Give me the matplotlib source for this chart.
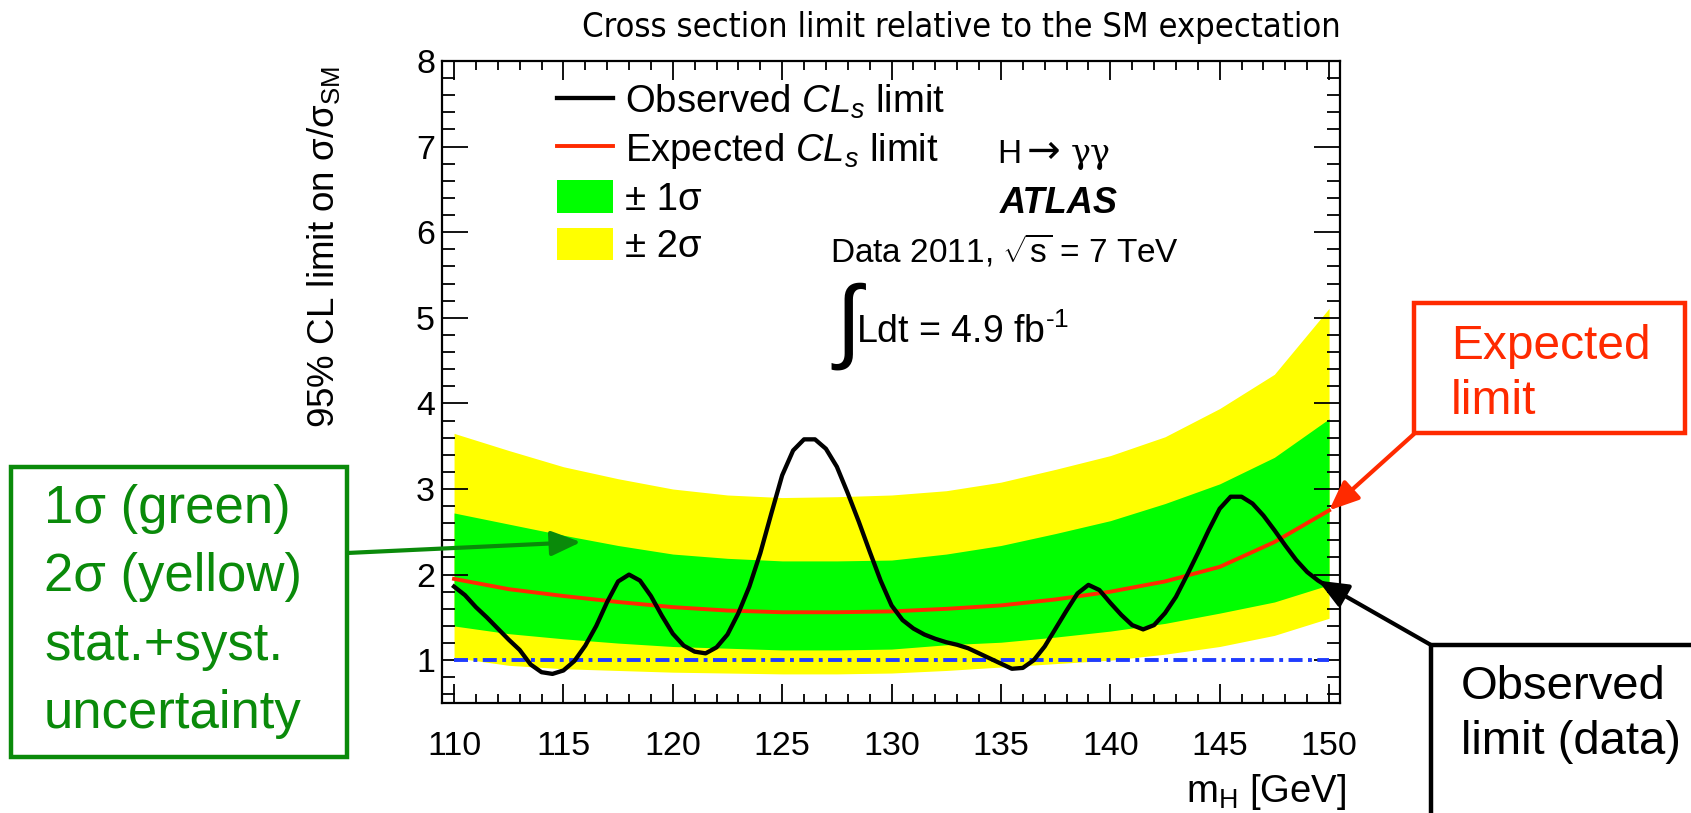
import matplotlib
matplotlib.use("Agg")
import matplotlib.pyplot as plt
from matplotlib.patches import Rectangle, ArrowStyle
from matplotlib.ticker import MultipleLocator
from matplotlib.textpath import TextPath
from matplotlib.font_manager import FontProperties

W, H = 1691, 813

plt.rcParams["font.family"] = ["Liberation Sans", "DejaVu Sans"]
plt.rcParams["mathtext.fontset"] = "custom"
plt.rcParams["mathtext.rm"] = "Liberation Sans"
plt.rcParams["mathtext.it"] = "Liberation Sans:italic"
plt.rcParams["mathtext.bf"] = "Liberation Sans:bold"
plt.rcParams["mathtext.default"] = "regular"

# ---- limit bands on a 2.5 GeV grid ----
mass_band = [110, 112.5, 115, 117.5, 120, 122.5, 125, 127.5, 130,
             132.5, 135, 137.5, 140, 142.5, 145, 147.5, 150]
expected = [1.95, 1.83, 1.75, 1.68, 1.62, 1.58, 1.56, 1.56, 1.57,
            1.60, 1.64, 1.71, 1.80, 1.92, 2.09, 2.38, 2.75]
plus_1sig = [2.72, 2.59, 2.46, 2.34, 2.24, 2.19, 2.16, 2.16, 2.17,
             2.24, 2.34, 2.48, 2.63, 2.83, 3.06, 3.37, 3.82]
minus_1sig = [1.40, 1.31, 1.25, 1.20, 1.16, 1.14, 1.12, 1.12, 1.13,
              1.18, 1.21, 1.27, 1.34, 1.43, 1.55, 1.68, 1.88]
plus_2sig = [3.65, 3.45, 3.26, 3.12, 3.00, 2.93, 2.90, 2.91, 2.93,
             2.98, 3.08, 3.23, 3.39, 3.61, 3.94, 4.34, 5.11]
minus_2sig = [1.03, 0.94, 0.90, 0.88, 0.86, 0.85, 0.84, 0.84, 0.85,
              0.88, 0.92, 0.96, 1.00, 1.07, 1.16, 1.29, 1.49]

# ---- observed limit, 0.5 GeV steps from 110 to 150 GeV ----
mass_obs = [110 + 0.5 * i for i in range(81)]
observed = [1.86, 1.76, 1.62, 1.50, 1.37, 1.24, 1.12, 0.95, 0.86, 0.84,
            0.88, 0.99, 1.17, 1.40, 1.68, 1.92, 2.00, 1.93, 1.75, 1.52,
            1.31, 1.17, 1.10, 1.08, 1.15, 1.30, 1.55, 1.86, 2.25, 2.71,
            3.16, 3.45, 3.58, 3.58, 3.47, 3.26, 2.95, 2.62, 2.27, 1.93,
            1.64, 1.47, 1.37, 1.30, 1.25, 1.21, 1.18, 1.14, 1.08, 1.02,
            0.96, 0.90, 0.91, 1.00, 1.16, 1.37, 1.58, 1.78, 1.88, 1.82,
            1.67, 1.53, 1.41, 1.36, 1.41, 1.55, 1.74, 1.99, 2.25, 2.52,
            2.77, 2.91, 2.91, 2.83, 2.69, 2.52, 2.34, 2.17, 2.03, 1.93,
            1.85]

sm_level = 1.0
x_ticks = [110, 115, 120, 125, 130, 135, 140, 145, 150]
y_ticks = [1, 2, 3, 4, 5, 6, 7, 8]

GREEN_BAND = "#00ff00"
YELLOW_BAND = "#ffff00"
RED = "#ff2a00"
BLUE = "#1f3cff"
NOTE_GREEN = "#0a8a0a"
PX_PER_PT = 100 / 72


def fx(px):
    return px / W


def fy(py):
    return 1 - py / H


fig = plt.figure(figsize=(W / 100, H / 100), dpi=100)
ax = fig.add_axes([fx(442), fy(703), (1340 - 442) / W, (703 - 61) / H])

band2 = ax.fill_between(mass_band, minus_2sig, plus_2sig, color=YELLOW_BAND,
                        lw=0, zorder=1)
band1 = ax.fill_between(mass_band, minus_1sig, plus_1sig, color=GREEN_BAND,
                        lw=0, zorder=1.1)
exp_line, = ax.plot(mass_band, expected, color=RED, lw=2.8, zorder=3)
ax.hlines(sm_level, mass_band[0], mass_band[-1], color=BLUE, lw=2.8,
          linestyles=[(0, (3.6, 1.4, 1.0, 1.4))], zorder=3.5)
obs_line, = ax.plot(mass_obs, observed, color="black", lw=3.1, zorder=4,
                    solid_joinstyle="round")

ax.set_xlim(109.45, 150.5)
ax.set_ylim(0.5, 8)
ax.set_xticks(x_ticks)
ax.set_yticks(y_ticks)
ax.xaxis.set_minor_locator(MultipleLocator(1))
ax.yaxis.set_minor_locator(MultipleLocator(0.2))
ax.tick_params(axis="both", which="both", direction="in", top=True,
               right=True, width=1.3, labelsize=24.5)
ax.tick_params(axis="x", which="major", length=13.5, pad=20)
ax.tick_params(axis="x", which="minor", length=6.5)
ax.tick_params(axis="y", which="major", length=18.5, pad=5)
ax.tick_params(axis="y", which="minor", length=9.3)
for sp in ax.spines.values():
    sp.set_linewidth(1.6)

ax.set_xlabel(r"$\mathrm{m}_{\mathrm{H}}$ [GeV]", fontsize=27.5, loc="right")
ax.xaxis.set_label_coords((1346 - 442) / 898, -(772 - 703) / 642)
ax.set_ylabel(r"95% CL limit on $\sigma/\sigma_{\mathrm{SM}}$", fontsize=26.5,
              loc="top", va="center")
ax.yaxis.set_label_coords((324 - 442) / 898, 1 - (66 - 61) / 642)

leg = ax.legend(
    [obs_line, exp_line, band1, band2],
    [r"Observed $\mathit{CL}_{\mathit{s}}$ limit",
     r"Expected $\mathit{CL}_{\mathit{s}}$ limit",
     "\u00b1 1\u03c3", "\u00b1 2\u03c3"],
    loc="upper left", bbox_to_anchor=(fx(557), fy(83)),
    bbox_transform=fig.transFigure, frameon=False, fontsize=27.5,
    handlelength=1.47, handletextpad=0.31, handleheight=0.95,
    labelspacing=0.25, borderpad=0, borderaxespad=0)

# physics labels inside the frame
fig.text(fx(997), fy(163), "H", fontsize=24, va="baseline", ha="left")
fig.text(fx(1027), fy(163), "\u2192", family="DejaVu Sans", fontsize=29,
         va="baseline", ha="left")
fig.text(fx(1071), fy(163), "\u03b3\u03b3", family="DejaVu Serif", fontsize=24,
         va="baseline", ha="left")
fig.text(fx(1000), fy(213), "ATLAS", fontsize=26, fontweight="bold",
         fontstyle="italic", va="baseline", ha="left")
fig.text(fx(830), fy(261), r"Data 2011, $\sqrt{\mathrm{s}}$ = 7 TeV",
         fontsize=24, va="baseline", ha="left")

# tall integral sign: size it from the glyph outline so it spans 282..370 px
int_prop = FontProperties(math_fontfamily="stix")
int_str = r"$\int$"
ext = TextPath((0, 0), int_str, size=1, prop=int_prop).get_extents()
int_size = 88 / (ext.height * PX_PER_PT)
k = int_size * PX_PER_PT
fig.text(fx(827 - ext.x0 * k), fy(370 + ext.y0 * k), int_str,
         math_fontfamily="stix", fontsize=int_size, va="baseline", ha="left")
fig.text(fx(856), fy(343), "Ldt = 4.9 fb$^{\u20101}$", fontsize=27,
         va="baseline", ha="left")

# header line, fitted to span the top of the frame
title = fig.text(fx(1341), fy(27), "Cross section limit relative to the SM expectation",
                 family="DejaVu Sans", fontstretch="condensed", fontsize=20,
                 va="center", ha="right")
fig.canvas.draw()
tw = title.get_window_extent().width
title.set_fontsize(20 * 760 / tw)

# call-out boxes with arrows
fig.patches.append(Rectangle((fx(11), fy(757)), (347 - 11) / W, (757 - 467) / H,
                             transform=fig.transFigure, fill=False,
                             edgecolor=NOTE_GREEN, lw=3.2))
fig.text(fx(44), fy(484), "1\u03c3 (green)\n2\u03c3 (yellow)\nstat.+syst.\nuncertainty",
         color=NOTE_GREEN, fontsize=38, va="top", ha="left", linespacing=1.47)

fig.patches.append(Rectangle((fx(1414), fy(433)), (1685 - 1414) / W, (433 - 303) / H,
                             transform=fig.transFigure, fill=False,
                             edgecolor=RED, lw=3.2))
fig.text(fx(1451), fy(324), "Expected\nlimit", color=RED, fontsize=34.5,
         va="top", ha="left", linespacing=1.3)

fig.patches.append(Rectangle((fx(1431), fy(900)), (1800 - 1431) / W, (900 - 645) / H,
                             transform=fig.transFigure, fill=False,
                             edgecolor="black", lw=3.2))
fig.text(fx(1461), fy(665), "Observed\nlimit (data)", color="black",
         fontsize=34, va="top", ha="left", linespacing=1.33)

head = ArrowStyle("-|>", head_length=1.0, head_width=0.42)
ax.annotate("", xy=(115.8, 2.38), xycoords="data",
            xytext=(fx(347), fy(553)), textcoords="figure fraction",
            arrowprops=dict(arrowstyle=head, color=NOTE_GREEN, lw=3.0,
                            shrinkA=0, shrinkB=0, mutation_scale=18),
            annotation_clip=False)
ax.annotate("", xy=(mass_band[-1], expected[-1]), xycoords="data",
            xytext=(fx(1414), fy(434)), textcoords="figure fraction",
            arrowprops=dict(arrowstyle=head, color=RED, lw=3.0,
                            shrinkA=0, shrinkB=0, mutation_scale=18),
            annotation_clip=False)
ax.annotate("", xy=(mass_obs[-2], observed[-2]), xycoords="data",
            xytext=(fx(1431), fy(645)), textcoords="figure fraction",
            arrowprops=dict(arrowstyle=head, color="black", lw=3.0,
                            shrinkA=0, shrinkB=0, mutation_scale=18),
            annotation_clip=False)

fig.savefig("out.png", dpi=100)
